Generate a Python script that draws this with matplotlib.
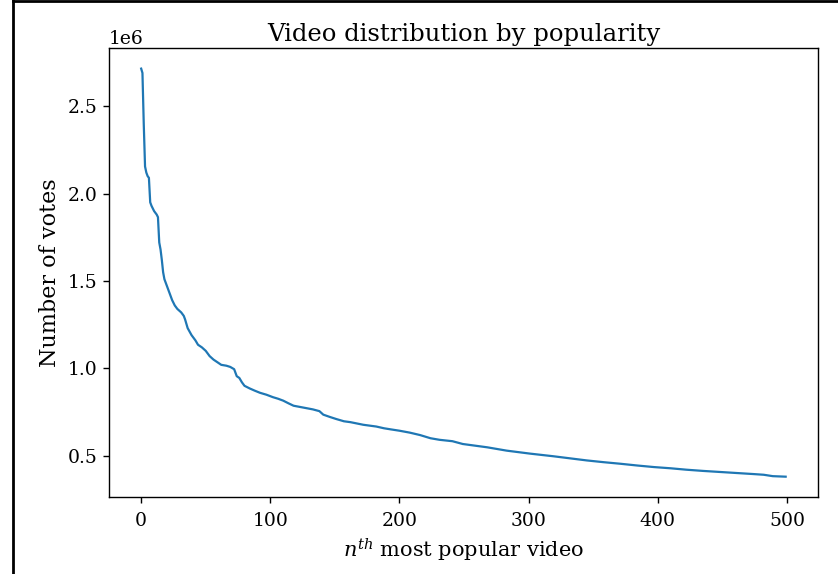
import matplotlib
matplotlib.use('Agg')
import matplotlib.pyplot as plt
from matplotlib.lines import Line2D

# rank of the video (0 = most popular) and its number of votes
rank = [0, 1, 2, 3, 4, 5, 6, 7, 8, 10, 12, 13, 14, 15, 16, 17, 18, 20, 22, 24,
        26, 28, 31, 33, 34, 36, 39, 42, 44, 47, 50, 53, 56, 59, 62, 66, 69, 72,
        74, 76, 78, 80, 84, 88, 92, 97, 102, 106, 110, 114, 118, 123, 128, 133,
        138, 141, 146, 151, 157, 162, 168, 172, 178, 182, 188, 193, 200, 208,
        216, 224, 231, 241, 249, 258, 268, 283, 301, 319, 332, 345, 358, 371,
        384, 397, 410, 422, 435, 448, 461, 474, 482, 489, 499]
votes = [2715000, 2690000, 2400000, 2155000, 2120000, 2100000, 2090000, 1950000,
         1930000, 1900000, 1880000, 1865000, 1720000, 1680000, 1620000, 1550000,
         1510000, 1470000, 1430000, 1390000, 1360000, 1340000, 1320000, 1300000,
         1280000, 1230000, 1190000, 1160000, 1135000, 1120000, 1100000, 1070000,
         1050000, 1035000, 1020000, 1015000, 1008000, 995000, 955000, 945000,
         920000, 900000, 885000, 872000, 860000, 849000, 835000, 826000, 815000,
         800000, 786000, 779000, 772000, 765000, 755000, 735000, 722000, 710000,
         697000, 692000, 683000, 677000, 671000, 667000, 657000, 651000, 643000,
         632000, 618000, 600000, 591000, 583000, 567000, 558000, 548000, 529000,
         512000, 497000, 485000, 473000, 463000, 454000, 444000, 435000, 428000,
         420000, 413000, 407000, 401000, 395000, 391000, 383000, 380000]

plt.rcParams['font.family'] = ['DejaVu Serif']
plt.rcParams['mathtext.fontset'] = 'dejavuserif'

fig = plt.figure(figsize=(8.38, 5.74), dpi=100)
ax = fig.add_axes([0.13, 0.134, 0.846, 0.782])

ax.plot(rank, votes, color='#1f77b4', linewidth=1.6)

ax.set_title('Video distribution by popularity', fontsize=17.5, pad=5)
ax.set_xlabel('$n^{th}$ most popular video', fontsize=15, labelpad=5)
ax.set_ylabel('Number of votes', fontsize=16, labelpad=5)
ax.tick_params(labelsize=13.5, length=4.5, width=1)
ax.tick_params(axis='x', pad=6)
ax.yaxis.get_offset_text().set_fontsize(13.5)
for s in ax.spines.values():
    s.set_linewidth(1)

# screenshot frame (left and top edge)
fig.add_artist(Line2D([0.0155, 0.0155], [0, 1], transform=fig.transFigure,
                      color='black', linewidth=2))
fig.add_artist(Line2D([0.0155, 1], [0.9975, 0.9975], transform=fig.transFigure,
                      color='black', linewidth=2))

fig.savefig('out.png', dpi=100)
